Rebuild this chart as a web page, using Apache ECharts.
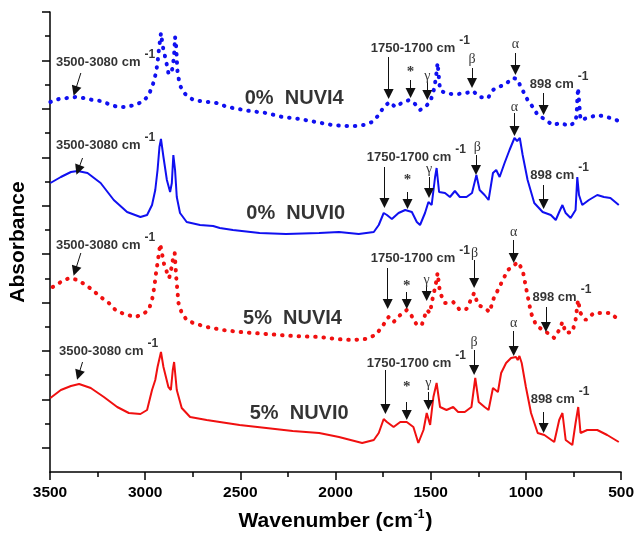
<!DOCTYPE html>
<html><head><meta charset="utf-8">
<script src="https://cdn.jsdelivr.net/npm/echarts@6/dist/echarts.min.js"></script>
<style>html,body{margin:0;padding:0;background:#fff}#c{width:637px;height:544px}</style>
</head><body><div id="c"></div>
<script>
// ---- axes ----
const xMin = 500, xMax = 3500, xStep = 500;
const yMax = 460;
const yMajorTicks = [24.2, 72.6, 121.1, 169.5, 217.9, 266.3, 314.7, 363.2, 411.6, 460];
const yMinorTicks = [48.4, 96.8, 145.3, 193.7, 242.1, 290.5, 339, 387.4, 435.8];

// ---- spectra: [wavenumber, absorbance (arb. units)] ----
const nuvi4_0 = [[3498,370],[3453,373],[3408,374],[3364,375],[3323,374],[3276,372],[3234,371],[3192,368],[3145,365],[3098,365],[3057,367],[3016,370],[2984,376],[2964,385],[2952,392],[2943,400],[2935,409],[2930,419],[2925,427],[2917,439],[2912,432],[2904,422],[2895,415],[2886,407],[2878,399],[2865,398],[2855,405],[2848,417],[2843,435],[2837,425],[2831,402],[2825,394],[2813,385],[2790,378],[2747,372],[2712,371],[2670,370],[2625,369],[2582,366],[2540,364],[2451,361],[2364,359],[2279,355],[2191,353],[2103,350],[2018,347],[1947,346],[1895,346],[1851,347],[1808,350],[1773,357],[1747,365],[1716,370],[1686,365],[1652,369],[1613,372],[1582,368],[1556,362],[1530,365],[1503,370],[1486,380],[1477,389],[1469,400],[1464,409],[1451,382],[1425,379],[1391,378],[1356,378],[1312,379],[1278,381],[1243,375],[1199,374],[1173,382],[1147,385],[1112,387],[1069,394],[1046,393],[1026,385],[991,372],[964,365],[938,357],[903,353],[860,347],[817,349],[773,346],[739,350],[733,359],[730,372],[726,384],[713,352],[678,354],[625,357],[573,355],[512,351]];
const nuvi0_0 = [[3498,289],[3443,295],[3390,300],[3355,301],[3303,299],[3234,289],[3165,272],[3095,260],[3025,255],[2990,257],[2964,267],[2947,282],[2935,302],[2925,325],[2917,333],[2904,315],[2886,292],[2869,280],[2860,289],[2852,317],[2843,302],[2834,275],[2817,259],[2782,250],[2712,247],[2643,246],[2608,244],[2539,242],[2399,239],[2260,238],[2086,239],[1982,240],[1878,238],[1799,240],[1773,247],[1747,259],[1730,257],[1704,253],[1669,259],[1634,262],[1599,260],[1573,250],[1556,247],[1530,259],[1512,270],[1495,267],[1477,295],[1469,304],[1456,280],[1425,279],[1399,275],[1373,281],[1347,275],[1312,275],[1283,279],[1260,297],[1243,282],[1217,277],[1196,272],[1173,299],[1156,302],[1138,295],[1112,309],[1086,322],[1060,334],[1046,331],[1032,334],[1017,317],[991,292],[956,269],[912,260],[869,257],[843,252],[825,260],[808,267],[791,259],[765,254],[739,262],[730,295],[721,277],[704,267],[669,272],[625,277],[590,275],[556,274],[512,267]];
const nuvi4_5 = [[3486,185],[3443,190],[3399,194],[3355,192],[3312,187],[3277,182],[3234,175],[3191,169],[3156,162],[3112,158],[3051,155],[3011,158],[2982,162],[2964,172],[2952,185],[2943,199],[2935,209],[2921,228],[2910,217],[2900,207],[2886,200],[2874,194],[2864,202],[2853,214],[2845,219],[2837,195],[2825,169],[2808,159],[2782,152],[2747,149],[2677,145],[2591,142],[2504,140],[2364,138],[2225,136],[2086,135],[1999,133],[1912,132],[1843,133],[1790,137],[1756,145],[1721,155],[1695,150],[1660,157],[1626,162],[1600,156],[1573,147],[1547,147],[1521,162],[1503,159],[1495,169],[1486,177],[1474,187],[1464,199],[1451,179],[1425,169],[1382,170],[1347,162],[1312,163],[1272,179],[1251,167],[1217,164],[1190,160],[1173,172],[1147,182],[1121,192],[1095,202],[1060,207],[1043,210],[1017,202],[1000,185],[973,159],[947,147],[912,142],[886,139],[851,134],[825,142],[808,150],[791,139],[756,140],[739,152],[726,172],[713,159],[686,152],[643,159],[590,159],[556,159],[512,152]];
const nuvi0_5 = [[3498,74],[3443,82],[3390,86],[3347,88],[3286,84],[3217,75],[3147,65],[3086,59],[3025,58],[2990,62],[2964,82],[2947,92],[2935,105],[2917,120],[2904,105],[2878,85],[2865,82],[2855,102],[2848,110],[2834,82],[2808,64],[2764,55],[2677,52],[2608,50],[2504,47],[2364,44],[2225,41],[2086,39],[1982,35],[1860,29],[1799,32],[1773,39],[1747,53],[1730,50],[1695,45],[1660,50],[1626,50],[1591,45],[1565,29],[1538,42],[1521,59],[1503,47],[1486,75],[1469,89],[1451,65],[1417,62],[1382,65],[1356,60],[1321,60],[1286,65],[1266,94],[1248,70],[1217,65],[1196,62],[1173,84],[1147,80],[1130,99],[1104,109],[1078,114],[1052,115],[1043,112],[1034,116],[1022,109],[1000,85],[973,59],[938,39],[903,37],[851,30],[825,52],[808,59],[791,32],[756,27],[739,49],[725,65],[713,39],[678,42],[625,42],[573,37],[512,30]];

// ---- annotations (data coordinates) ----
const sampleNames = ['0%  NUVI4', '0%  NUVI0', '5%  NUVI4', '5%  NUVI0'];
const sampleNameAt = [[2477,374],[2469,259],[2486,154],[2451,59]];
const bandTexts = ['3500-3080 cm', '1750-1700 cm', '898 cm'];
const bandTextAt = [
  [[3469,410],[1815,424],[980,388]],
  [[3469,327],[1836,315],[977,297]],
  [[3469,227],[1815,214],[965,175]],
  [[3453,121],[1836,109],[975,73]]
];
const markSymbols = ['*', 'γ', 'β', 'α'];
const markSymbolAt = [
  [[1606,400],[1518,396],[1283,413],[1055,428]],
  [[1622,292],[1509,303],[1255,325],[1060,365]],
  [[1626,186],[1521,192],[1269,219],[1064,240]],
  [[1626,85],[1512,89],[1272,130],[1064,149]]
];
const arrows = [
  [[3338,399],[3368,381]],[[1721,415],[1721,378]],[[1606,392],[1606,379]],[[1518,389],[1518,377]],[[1283,404],[1283,389]],[[1055,419],[1055,402]],[[907,379],[907,362]],
  [[3329,314],[3352,302]],[[1743,305],[1743,269]],[[1622,280],[1622,268]],[[1509,295],[1509,279]],[[1262,317],[1262,302]],[[1060,359],[1060,341]],[[907,287],[907,268]],
  [[3338,219],[3368,201]],[[1726,204],[1726,168]],[[1626,180],[1626,168]],[[1521,185],[1521,176]],[[1272,212],[1272,189]],[[1064,232],[1064,214]],[[895,165],[895,145]],
  [[3329,110],[3350,97]],[[1738,102],[1738,63]],[[1626,70],[1626,57]],[[1512,80],[1512,67]],[[1272,122],[1272,102]],[[1064,141],[1064,121]],[[907,60],[907,44]]
];

const FONT = "Arial, 'Liberation Sans', sans-serif";
const BLUE = '#1010f0', RED = '#f01010';

const chart = echarts.init(document.getElementById('c'), null, {renderer: 'canvas'});

const textData = [];
bandTextAt.forEach(row => row.forEach((p, i) => {
  textData.push({value: p, label: {position: 'right', distance: 0, formatter: '{m|' + bandTexts[i] + '}{s|-1}'}});
}));
const symData = [];
markSymbolAt.forEach(row => row.forEach((p, i) => {
  symData.push({value: p, label: {position: 'inside', formatter: markSymbols[i],
    fontSize: markSymbols[i] === '*' ? 15 : 14, fontWeight: markSymbols[i] === '*' ? 'bold' : 'normal'}});
}));
const nameData = sampleNames.map((n, i) => ({value: sampleNameAt[i], label: {formatter: n}}));

function spectrum(data, color, dotted) {
  return {
    type: 'line', data: data, showSymbol: false, silent: true, z: 2,
    lineStyle: dotted ? {color: color, width: 4, type: [0.5, 7.8], cap: 'round'} : {color: color, width: 2}
  };
}

chart.setOption({
  animation: false,
  backgroundColor: '#fff',
  grid: {left: 49, right: 13, top: 12, bottom: 72},
  xAxis: {
    type: 'value', min: xMin, max: xMax, interval: xStep, inverse: true,
    name: '{n|Wavenumber (cm}{s|-1}{n|)}', nameLocation: 'middle', nameGap: 37,
    nameTextStyle: {rich: {
      n: {fontFamily: FONT, fontSize: 21, fontWeight: 'bold', color: '#000'},
      s: {fontFamily: FONT, fontSize: 12, fontWeight: 'bold', color: '#000', padding: [0, 1, 13, 1]}
    }},
    axisLine: {show: true, onZero: false, lineStyle: {color: '#000', width: 1.5}},
    axisTick: {show: true, inside: false, length: 8, lineStyle: {color: '#000', width: 1.5}},
    minorTick: {show: true, splitNumber: 2, length: 5, lineStyle: {color: '#000', width: 1.5}},
    axisLabel: {color: '#000', fontFamily: FONT, fontSize: 15.5, fontWeight: 'bold', margin: 13,
      formatter: v => String(v)},
    splitLine: {show: false}, minorSplitLine: {show: false}
  },
  yAxis: [{
    type: 'value', min: 0, max: yMax, position: 'left',
    name: 'Absorbance', nameLocation: 'middle', nameGap: 21,
    nameTextStyle: {fontFamily: FONT, fontSize: 21, fontWeight: 'bold', color: '#000'},
    axisLine: {show: true, onZero: false, lineStyle: {color: '#000', width: 1.5}},
    axisTick: {show: true, inside: false, length: 8, customValues: yMajorTicks, lineStyle: {color: '#000', width: 1.5}},
    axisLabel: {show: false}, splitLine: {show: false}
  }, {
    type: 'value', min: 0, max: yMax, position: 'left',
    axisLine: {show: false},
    axisTick: {show: true, inside: false, length: 5, customValues: yMinorTicks, lineStyle: {color: '#000', width: 1.5}},
    axisLabel: {show: false}, splitLine: {show: false}
  }],
  series: [
    spectrum(nuvi4_0, BLUE, true),
    spectrum(nuvi0_0, BLUE, false),
    spectrum(nuvi4_5, RED, true),
    spectrum(nuvi0_5, RED, false),
    {
      type: 'lines', coordinateSystem: 'cartesian2d', silent: true, z: 5,
      symbol: ['none', 'triangle'], symbolSize: [6, 10],
      lineStyle: {color: '#111', width: 1, opacity: 1, curveness: 0},
      data: arrows.map(a => ({coords: a}))
    },
    {
      type: 'scatter', silent: true, symbolSize: 0, z: 6, data: textData,
      label: {show: true, color: '#000', rich: {
        m: {fontFamily: FONT, fontSize: 13, fontWeight: 'bold', color: '#000'},
        s: {fontFamily: FONT, fontSize: 12, fontWeight: 'bold', color: '#000', padding: [0, 0, 15, 4]}
      }}
    },
    {
      type: 'scatter', silent: true, symbolSize: 0, z: 6, data: symData,
      label: {show: true, color: '#000', fontFamily: "'Liberation Serif', 'DejaVu Serif', serif"}
    },
    {
      type: 'scatter', silent: true, symbolSize: 0, z: 6, data: nameData,
      label: {show: true, position: 'right', distance: 0, color: '#000', fontFamily: FONT, fontSize: 20, fontWeight: 'bold'}
    }
  ]
});
</script>
</body></html>
